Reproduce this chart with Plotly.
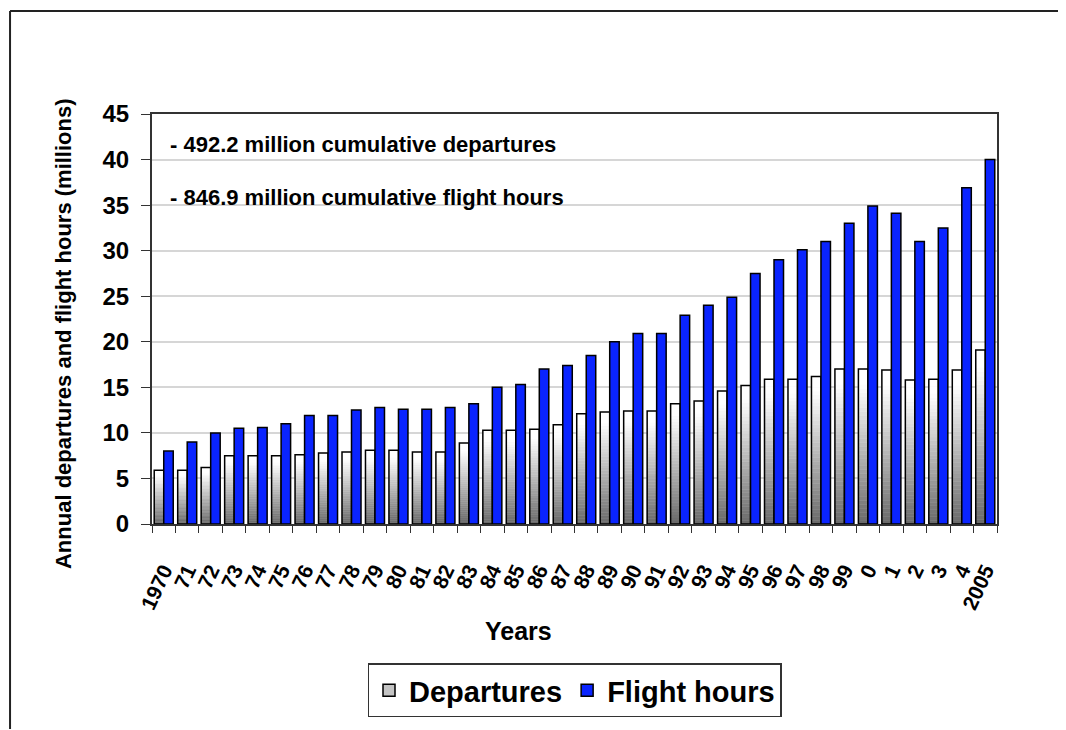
import plotly.graph_objects as go

# Annual departures and flight hours (millions)
years = ['1970', '71', '72', '73', '74', '75', '76', '77', '78', '79',
         '80', '81', '82', '83', '84', '85', '86', '87', '88', '89',
         '90', '91', '92', '93', '94', '95', '96', '97', '98', '99',
         '0', '1', '2', '3', '4', '2005']
departures = [5.9, 5.9, 6.2, 7.5, 7.5, 7.5, 7.6, 7.8, 7.9, 8.1,
              8.1, 7.9, 7.9, 8.9, 10.3, 10.3, 10.4, 10.9, 12.1, 12.3,
              12.4, 12.4, 13.2, 13.5, 14.6, 15.2, 15.9, 15.9, 16.2, 17.0,
              17.0, 16.9, 15.8, 15.9, 16.9, 19.1]
flight_hours = [8.0, 9.0, 10.0, 10.5, 10.6, 11.0, 11.9, 11.9, 12.5, 12.8,
                12.6, 12.6, 12.8, 13.2, 15.0, 15.3, 17.0, 17.4, 18.5, 20.0,
                20.9, 20.9, 22.9, 24.0, 24.9, 27.5, 29.0, 30.1, 31.0, 33.0,
                34.9, 34.1, 31.0, 32.5, 36.9, 40.0]
notes = ['- 492.2 million cumulative departures',
         '- 846.9 million cumulative flight hours']

FONT = 'Liberation Sans, Arial, sans-serif'
BLUE = '#0a24ff'

fig = go.Figure()

# gradient fill for the departures bars: stacked slices, dark grey at bottom -> white on top
n = 40
for k in range(n):
    t = min(1.0, (k + 0.5) / n / 0.9)
    g = int(105 + (255 - 105) * t)
    fig.add_trace(go.Bar(x=years, y=[d / n for d in departures],
                         base=[d * k / n for d in departures],
                         offsetgroup='dep', marker_color=f'rgb({g},{g},{g})',
                         marker_line=dict(color=f'rgb({g},{g},{g})', width=0.5),
                         showlegend=False, hoverinfo='skip'))
# outline for departures
fig.add_trace(go.Bar(x=years, y=departures, offsetgroup='dep', name='Departures',
                     marker=dict(color='rgba(0,0,0,0)', line=dict(color='black', width=1.5)),
                     showlegend=False))
# legend entry for departures
fig.add_trace(go.Bar(x=[years[0]], y=[None], offsetgroup='dep', name='Departures',
                     marker=dict(color='#c4c4c4', line=dict(color='black', width=1.5)),
                     legendrank=1))
fig.add_trace(go.Bar(x=years, y=flight_hours, offsetgroup='fh', name='Flight hours',
                     marker=dict(color=BLUE, line=dict(color='black', width=1.5)),
                     legendrank=2))

# annotations
for i, txt in enumerate(notes):
    fig.add_annotation(x=0.019, y=[0.925, 0.797][i], xref='paper', yref='paper',
                       text=txt, showarrow=False, xanchor='left', yanchor='middle',
                       font=dict(family=FONT, size=22, weight='bold', color='black'))
fig.add_annotation(x=0.434, y=-0.262, xref='paper', yref='paper', text='Years',
                   showarrow=False, xanchor='center', yanchor='middle',
                   font=dict(family=FONT, size=25, weight='bold', color='black'))
fig.add_annotation(x=-0.105, y=0.464, xref='paper', yref='paper', textangle=-90,
                   text='Annual departures and flight hours (millions)',
                   showarrow=False, xanchor='center', yanchor='middle',
                   font=dict(family=FONT, size=22, weight='bold', color='black'))

# outer page frame (top and left edges)
fig.add_shape(type='line', xref='paper', yref='paper', x0=-0.168, x1=1.09,
              y0=1.2512, y1=1.2512, line=dict(color='#222', width=2))
fig.add_shape(type='line', xref='paper', yref='paper', x0=-0.168, x1=-0.168,
              y0=1.2512, y1=-0.5, line=dict(color='#222', width=2))

# page body has an 8px margin, so the figure is 8px smaller and margins shifted
fig.update_layout(
    width=1058, height=722,
    margin=dict(l=144, r=69, t=106, b=198),
    paper_bgcolor='white', plot_bgcolor='white',
    barmode='group', bargap=0.19, bargroupgap=0,
    font=dict(family=FONT, color='black'),
    legend=dict(orientation='h', x=0.5, xanchor='center', y=-0.34, yanchor='top',
                bordercolor='#333', borderwidth=1.5,
                font=dict(family=FONT, size=29, weight='bold', color='black')),
    xaxis=dict(type='category', tickson='boundaries', ticks='outside', ticklen=7,
               tickcolor='#333', showline=True, linecolor='#333', linewidth=2,
               mirror=True, tickangle=-65, ticklabelstandoff=24, dtick=1,
               automargin=False,
               tickfont=dict(family=FONT, size=21, weight='bold', color='black')),
    yaxis=dict(range=[0, 45], dtick=5, ticks='outside', ticklen=9, tickcolor='#333',
               showline=True, linecolor='#333', linewidth=2, mirror=True,
               gridcolor='#d6d6d6', gridwidth=1.5, zeroline=False,
               ticklabelstandoff=7, automargin=False,
               tickfont=dict(family=FONT, size=24, weight='bold', color='black')),
)

fig.write_html("out.html")
